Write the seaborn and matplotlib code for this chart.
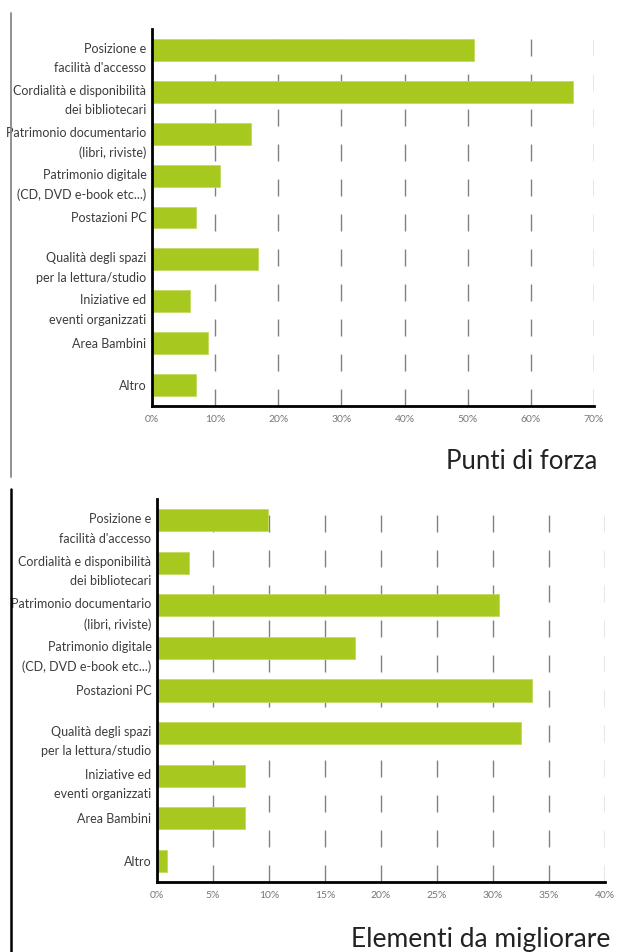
import matplotlib.pyplot as plt
import matplotlib.lines as mlines
import pandas as pd
import seaborn as sns

# categorie (identiche nei due grafici)
categorie = [
    "Posizione e\nfacilità d'accesso",
    "Cordialità e disponibilità\ndei bibliotecari",
    "Patrimonio documentario\n(libri, riviste)",
    "Patrimonio digitale\n(CD, DVD e-book etc...)",
    "Postazioni PC",
    "Qualità degli spazi\nper la lettura/studio",
    "Iniziative ed\neventi organizzati",
    "Area Bambini",
    "Altro",
]

# percentuali
punti_forza = [51.0, 66.7, 15.7, 10.8, 7.0, 16.8, 6.0, 8.9, 7.0]
da_migliorare = [9.9, 2.9, 30.5, 17.7, 33.5, 32.5, 7.9, 7.9, 0.9]

tick_forza = [0, 10, 20, 30, 40, 50, 60, 70]
tick_migliorare = [0, 5, 10, 15, 20, 25, 30, 35, 40]

verde = "#a7c81f"

sns.set_theme(style="white")
plt.rcParams["font.family"] = ["Lato", "DejaVu Sans"]

fig = plt.figure(figsize=(6.19, 9.53), dpi=100)
W, H = 619, 953


def box(x0, y0, x1, y1):
    # pixel -> frazioni di figura
    return [x0 / W, 1 - y1 / H, (x1 - x0) / W, (y1 - y0) / H]


ax1 = fig.add_axes(box(152, 30, 594, 407))
ax2 = fig.add_axes(box(157, 500, 605, 883))


def disegna(ax, valori, ticks, titolo, tx, ty, tsize):
    df = pd.DataFrame({"cat": categorie, "val": valori})
    for t in ticks[1:]:
        ax.axvline(t, color="#808080", lw=1, ls=(0, (12.2, 13)), zorder=0)
    sns.barplot(data=df, y="cat", x="val", color=verde, width=0.52,
                edgecolor="#c3da62", linewidth=0.6, saturation=1, ax=ax, zorder=2)
    ax.set_xlim(0, ticks[-1])
    ax.set_ylim(8.5, -0.5)
    ax.set_xticks(ticks)
    ax.set_xticklabels([f"{t}%" for t in ticks])
    ax.set_yticks(range(len(categorie)))
    ax.set_yticklabels([])
    ax.set_xlabel("")
    ax.set_ylabel("")
    ax.tick_params(axis="x", length=0, labelsize=7.5, labelcolor="#777777", pad=6)
    ax.tick_params(axis="y", length=0)
    # etichette: la prima riga e' allineata al centro della barra
    for i, c in enumerate(categorie):
        if "\n" in c:
            va, dy = "top", 5.8
        else:
            va, dy = "center", 0
        ax.annotate(c, xy=(0, i), xycoords=("axes fraction", "data"),
                    xytext=(-4, dy), textcoords="offset points",
                    ha="right", va=va, fontsize=9, color="#3c3c3c",
                    linespacing=1.75)
    for s in ["top", "right"]:
        ax.spines[s].set_visible(False)
    for s in ["left", "bottom"]:
        ax.spines[s].set_color("black")
        ax.spines[s].set_linewidth(2)
    ax.grid(False)
    fig.text(tx / W, 1 - ty / H, titolo, ha="right", va="center",
             fontsize=tsize, color="#222222")


disegna(ax1, punti_forza, tick_forza, "Punti di forza", 597, 462, 18.5)
disegna(ax2, da_migliorare, tick_migliorare, "Elementi da migliorare", 610, 940, 19)

# bordi verticali a sinistra dei due riquadri
fig.add_artist(mlines.Line2D([10.5 / W, 10.5 / W], [1 - 14 / H, 1 - 478 / H],
                             color="#888888", lw=1.3))
fig.add_artist(mlines.Line2D([11 / W, 11 / W], [1 - 490 / H, 0],
                             color="black", lw=1.8))

fig.savefig("out.png", dpi=100)
